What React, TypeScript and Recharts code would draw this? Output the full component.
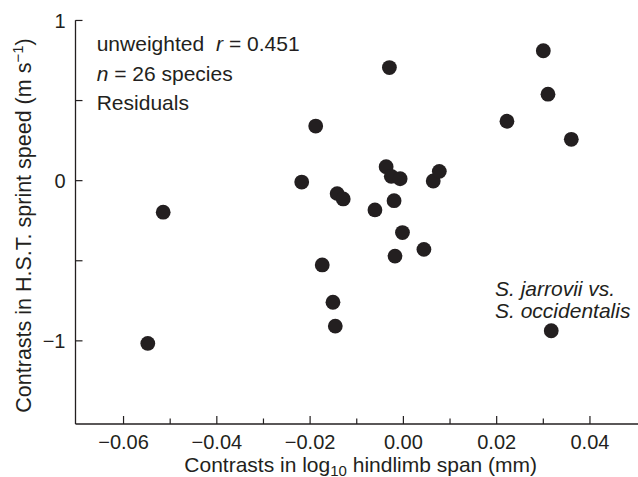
import React from 'react';
import { ScatterChart, Scatter, XAxis, YAxis } from 'recharts';

// Contrasts in log10 hindlimb span (mm)
const contrastHindlimb = [
  -0.0548, -0.0515, -0.0218, -0.0188, -0.0174, -0.0151, -0.0146, -0.0142, -0.0129,
  -0.0061, -0.0037, -0.0030, -0.0026, -0.0020, -0.0018, -0.0007, -0.0002, 0.0044,
  0.0064, 0.0077, 0.0222, 0.0300, 0.0310, 0.0360, 0.0317,
];
// Contrasts in H.S.T. sprint speed (m s-1)
const contrastSpeed = [
  -1.016, -0.197, -0.009, 0.341, -0.526, -0.759, -0.908, -0.081, -0.114,
  -0.183, 0.087, 0.706, 0.027, -0.125, -0.471, 0.012, -0.324, -0.429,
  -0.002, 0.058, 0.371, 0.811, 0.54, 0.258, -0.937,
];

const xTicks = [-0.06, -0.05, -0.04, -0.03, -0.02, -0.01, 0, 0.01, 0.02, 0.03, 0.04];
const xTickLabels = ['−0.06', '', '−0.04', '', '−0.02', '', '0.00', '', '0.02', '', '0.04'];
const yTicks = [-1, -0.5, 0, 0.5, 1];
const yTickLabels = ['−1', '', '0', '', '1'];

const INK = '#231f20';
const FONT = '"Liberation Sans", Arial, Helvetica, sans-serif';

const data = contrastHindlimb.map((x, i) => ({ x, y: contrastSpeed[i] }));

const XTick = (props: any) => {
  const { x, y, payload } = props;
  const idx = xTicks.indexOf(payload.value);
  const label = idx >= 0 ? xTickLabels[idx] : '';
  const len = label ? 8 : 5.5;
  return (
    <g>
      <line x1={x} y1={y} x2={x} y2={y - len} stroke={INK} strokeWidth={1.2} />
      {label && (
        <text x={x} y={y + 24.5} textAnchor="middle" fontSize={20} fontFamily={FONT} fill={INK}>
          {label}
        </text>
      )}
    </g>
  );
};

const YTick = (props: any) => {
  const { x, y, payload } = props;
  const idx = yTicks.indexOf(payload.value);
  const label = idx >= 0 ? yTickLabels[idx] : '';
  return (
    <g>
      <line x1={x} y1={y} x2={x + 7} y2={y} stroke={INK} strokeWidth={1.2} />
      {label && (
        <text x={x - 10} y={y} dy="0.36em" textAnchor="end" fontSize={20} fontFamily={FONT} fill={INK}>
          {label}
        </text>
      )}
    </g>
  );
};

const Dot = (props: any) => {
  const { cx, cy } = props;
  return <circle cx={cx} cy={cy} r={7.4} fill={INK} />;
};

export default function App() {
  return (
    <div style={{ position: 'absolute', left: 0, top: 0, width: 638, height: 477, background: '#fff' }}>
      <ScatterChart width={638} height={477} margin={{ top: 20.3, right: 0, bottom: 0, left: 0 }}>
        <XAxis
          type="number"
          dataKey="x"
          domain={[-0.0703, 0.0503]}
          ticks={xTicks}
          interval={0}
          tickSize={0}
          tickMargin={0}
          tickLine={false}
          tick={(p: any) => <XTick {...p} />}
          axisLine={{ stroke: INK, strokeWidth: 1.3 }}
          allowDataOverflow
          height={53}
        />
        <YAxis
          type="number"
          dataKey="y"
          domain={[-1.519, 1.001]}
          ticks={yTicks}
          interval={0}
          tickSize={0}
          tickMargin={0}
          tickLine={false}
          tick={(p: any) => <YTick {...p} />}
          axisLine={{ stroke: INK, strokeWidth: 1.3 }}
          allowDataOverflow
          width={75.5}
        />
        <Scatter data={data} shape={(p: any) => <Dot {...p} />} isAnimationActive={false} />
      </ScatterChart>
      <svg
        width={638}
        height={477}
        style={{ position: 'absolute', left: 0, top: 0, pointerEvents: 'none' }}
      >
        <g fontFamily={FONT} fill={INK} fontSize={21}>
          <text x={96.7} y={50.7}>
            unweighted
            <tspan dx={12} fontStyle="italic">r</tspan>
            <tspan> = 0.451</tspan>
          </text>
          <text x={96.7} y={81}>
            <tspan fontStyle="italic">n</tspan>
            <tspan> = 26 species</tspan>
          </text>
          <text x={96.7} y={110}>Residuals</text>
          <text x={495} y={296} fontStyle="italic">S. jarrovii vs.</text>
          <text x={495} y={318} fontStyle="italic">S. occidentalis</text>
          <text x={360.7} y={472} textAnchor="middle" fontSize={21}>
            Contrasts in log
            <tspan fontSize={15} dy={3.5}>10</tspan>
            <tspan dy={-3.5}> hindlimb span (mm)</tspan>
          </text>
          <text transform="translate(31, 225.5) rotate(-90)" textAnchor="middle" fontSize={21.5}>
            Contrasts in H.S.T. sprint speed (m s
            <tspan fontSize={15} dy={-8}>−1</tspan>
            <tspan dy={8}>)</tspan>
          </text>
        </g>
      </svg>
    </div>
  );
}
